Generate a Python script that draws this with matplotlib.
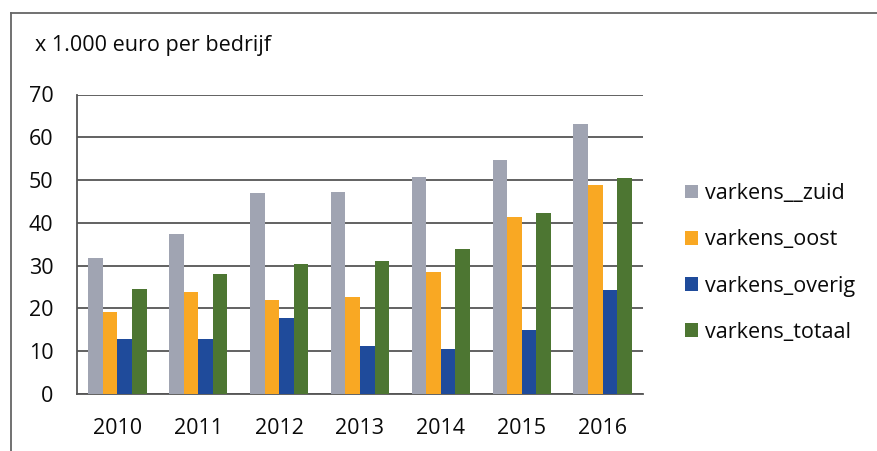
import matplotlib
matplotlib.use("Agg")
import matplotlib.pyplot as plt
import numpy as np
from matplotlib.lines import Line2D

years = ["2010", "2011", "2012", "2013", "2014", "2015", "2016"]
series_names = ["varkens__zuid", "varkens_oost", "varkens_overig", "varkens_totaal"]
zuid = [31.7, 37.5, 46.9, 47.3, 50.8, 54.8, 63.2]
oost = [19.1, 23.8, 22.0, 22.6, 28.4, 41.4, 48.8]
overig = [12.9, 12.9, 17.7, 11.2, 10.5, 15.0, 24.2]
totaal = [24.5, 28.1, 30.5, 31.0, 34.0, 42.4, 50.5]
yticks = [0, 10, 20, 30, 40, 50, 60, 70]
ylabel_text = "x 1.000 euro per bedrijf"

colors = ["#a0a4b2", "#f9a823", "#1f4b9b", "#4d7632"]

plt.rcParams['font.family'] = ['Open Sans', 'DejaVu Sans']
FS = 15.5
TC = "#0a0a0a"

W, H = 877, 451
fig = plt.figure(figsize=(W / 100, H / 100), dpi=100)
ax = fig.add_axes([77 / W, 1 - 394 / H, (643 - 77) / W, (394 - 94.5) / H])

x = np.arange(len(years))
bw = 0.18
data = [zuid, oost, overig, totaal]
for i, (vals, c, name) in enumerate(zip(data, colors, series_names)):
    ax.bar(x + (i - 1.5) * bw, vals, width=bw, color=c, label=name, zorder=3)

ax.set_xlim(-0.5, len(years) - 0.5)
ax.set_ylim(0, 70)
ax.set_yticks(yticks)
ax.set_yticklabels([str(t) for t in yticks], fontsize=FS, color=TC)
ax.set_xticks(x)
ax.set_xticklabels(years, fontsize=FS, color=TC)
ax.tick_params(axis='y', length=0, pad=17)
ax.tick_params(axis='x', length=0, pad=17)
ax.grid(axis='y', color="#555555", linewidth=1.3, zorder=0)
for s in ["top", "right"]:
    ax.spines[s].set_visible(False)
ax.spines["left"].set_color("#555555")
ax.spines["left"].set_linewidth(1.3)
ax.spines["bottom"].set_color("#555555")
ax.spines["bottom"].set_linewidth(1.3)

fig.text(35 / W, 1 - 45 / H, ylabel_text, fontsize=FS, color=TC,
         ha="left", va="center")

leg = fig.legend(loc="center left", bbox_to_anchor=(676 / W, 1 - 263 / H),
                 frameon=False, fontsize=FS, handlelength=0.6, handleheight=0.6,
                 handletextpad=0.35, labelspacing=1.17, borderaxespad=0)
for t in leg.get_texts():
    t.set_color(TC)

# outer frame lines (left and top)
fig.add_artist(Line2D([11 / W, 11 / W], [0, 1 - 12.7 / H], transform=fig.transFigure,
                      color="#666666", linewidth=1.3))
fig.add_artist(Line2D([11 / W, 1], [1 - 12.7 / H, 1 - 12.7 / H], transform=fig.transFigure,
                      color="#666666", linewidth=1.3))

fig.savefig("out.png", dpi=100)
